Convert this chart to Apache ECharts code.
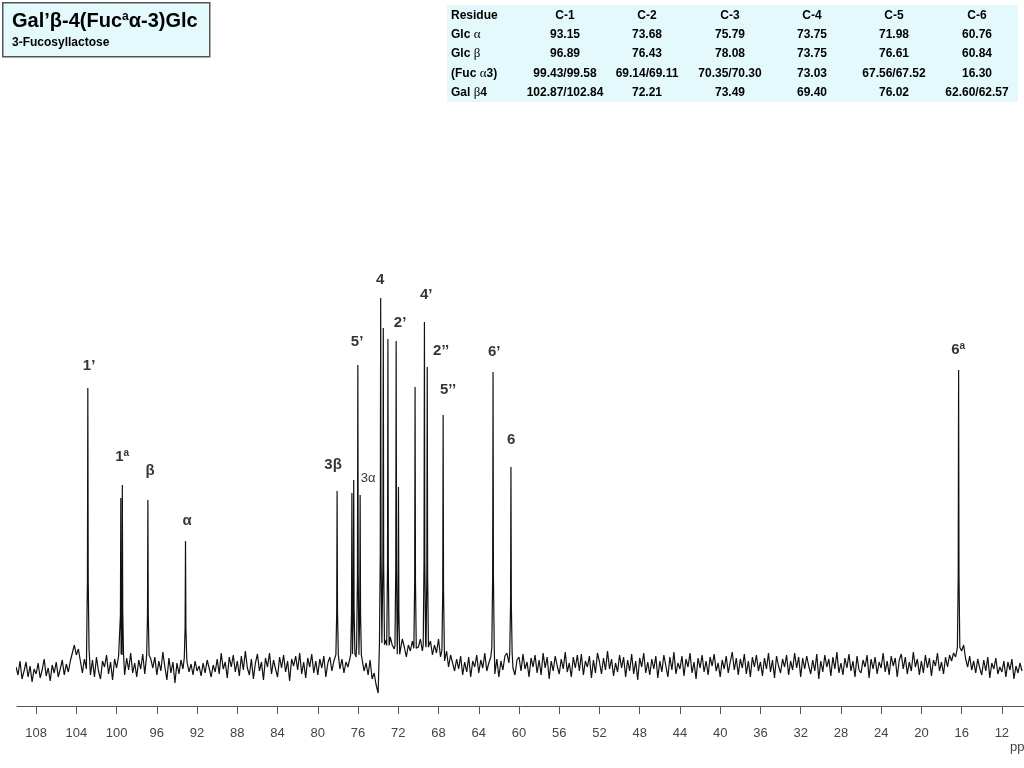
<!DOCTYPE html>
<html>
<head>
<meta charset="utf-8">
<title>3-Fucosyllactose 13C NMR</title>
<script src="https://cdn.jsdelivr.net/npm/echarts@6/dist/echarts.min.js"></script>
<style>
  html, body { margin: 0; padding: 0; background: #fff; }
  #chart { width: 1024px; height: 768px; }
</style>
</head>
<body>
<div id="chart"></div>
<script>
// x轴刻度 (ppm)
var tickLabels = [108, 104, 100, 96, 92, 88, 84, 80, 76, 72, 68, 64, 60, 56, 52, 48, 44, 40, 36, 32, 28, 24, 20, 16, 12];

// 基线噪声, 从110 ppm起每0.2 ppm一个点
var noiseStart = 110;
var noiseStep = 0.2;
var noise = [
  -2, -10, 4, -14, -6, 3, -12, -1, -17, -4,
  -9, 2, -13, -5, 6, -11, -3, -16, 0, -8,
  3, -12, -4, 5, -10, 1, -7, 4, 12, 20,
  10, 16, 4, -8, 6, -4, 2, -10, 5, -12,
  8, -6, -14, 4, -2, 10, -9, 3, -15, 6,
  -3, 9, -1, 4, -10, 7, -5, 12, -8, 2,
  -12, 5, -4, 11, -9, 2, -16, 6, -3, 8,
  -10, 4, -6, 13, -2, -15, 7, -8, 3, -18,
  2, -9, 5, -4, -12, 3, -7, 1, -10, 4,
  -6, -1, -11, 2, -8, 5, -3, -12, 0, -7,
  6, -9, 12, -4, 3, -13, 8, -2, 10, -7,
  4, -11, 9, -5, 14, -3, -10, 6, -14, 2,
  11, -6, 3, -15, 7, -2, 12, -9, 5, -4,
  -12, 8, -3, 10, -7, 4, -16, 6, -1, 9,
  -5, 12, -9, 3, -13, 7, -2, 11, -8, 4,
  -10, 6, -3, 9, -12, 2, 8, -6, 4, -9,
  10, -4, 6, -8, 3, -2, 7, 12, -5, 8,
  4, -3, 9, -6, 2, -10, 5, -14, -8, -20,
  -28, -12, 10, 18, 25, 14, 28, 20, 16, 30,
  22, 12, 26, 18, 8, 20, 14, 24, 10, 28,
  18, 26, 14, 30, 22, 16, 24, 10, 20, 12,
  26, 8, 18, 4, 14, -2, 10, 2, -6, 6,
  -4, 9, -10, 3, -7, 8, -12, 4, -2, 10,
  -8, 5, -3, 12, -6, 2, 8, -1, -9, 6,
  -12, 4, -5, 9, 12, 2, 6, -3, -10, 5,
  8, -6, 11, -4, 3, -12, 7, -2, 10, -8,
  5, -10, 12, -3, 8, -14, 4, -6, 9, -1,
  -9, 6, -4, 13, -7, 2, -12, 8, -3, 10,
  -6, 11, -10, 4, -2, 9, -13, 5, -8, 12,
  3, -9, 7, -5, 14, -4, 6, -11, 2, -7,
  10, -3, 8, -12, 5, -6, 11, -9, 4, -15,
  7, -2, 12, -8, 3, -10, 6, -4, 9, -13,
  4, -7, 10, -1, -12, 8, -5, 13, -9, 2,
  -4, 9, -11, 6, -2, 12, -8, 3, -14, 7,
  -3, 10, -7, 4, -10, 8, -1, 11, -6, 2,
  -12, 5, -4, 9, -8, 3, 13, -5, 7, -10,
  6, -3, 11, -9, 4, -12, 8, -2, 10, -6,
  3, -11, 7, -4, 12, -7, 5, -13, 9, -1,
  -8, 6, -2, 10, -10, 4, -5, 12, -3, 8,
  -12, 7, -4, 9, -1, -9, 5, -6, 11, -14,
  4, -7, 10, -2, 6, -11, 8, -4, 13, -8,
  2, -10, 7, -3, 11, -6, 4, -12, 9, -5,
  -8, 5, -2, 10, -13, 6, -4, 8, -9, 3,
  -3, 12, -7, 4, -10, 9, -1, 7, -12, 5,
  11, -4, 8, -9, 3, -6, 13, -2, 6, -10,
  4, -8, 10, -3, 7, -11, 5, -1, 12, -6,
  3, -9, 8, -2, 10, 4, 12, 8, 18, 24,
  14, 20, 6, -2, 9, -5, 4, -8, 6, -3,
  -10, 5, -6, 8, -13, 2, -4, 7, -9, -2,
  -7, 4, -12, 3, -5, 6, -14, -1, -8, 2,
  -6
];

// 峰位置 (ppm) 和高度
var peakPpm = [102.86, 99.58, 99.43, 96.89, 93.15, 78.08, 76.61, 76.43, 76.02, 75.79,
  73.75, 73.49, 73.03, 72.21, 71.98, 70.33, 69.40, 69.12, 67.54, 62.58, 60.80, 16.30];
var peakHeight = [277, 167, 180, 165, 124, 174, 172, 185, 300, 170,
  367, 337, 326, 324, 178, 278, 343, 298, 250, 293, 198, 295];

// 峰标注
var labelText = ['1’', '1{s|a}', 'β', 'α', '3β', '{n|3α}', '5’', '4', '2’', '4’', '2’’', '5’’', '6’', '6', '6{s|a}'];
var labelPpm = [102.73, 99.45, 96.67, 92.99, 78.48, 75.0, 76.09, 73.80, 71.82, 69.23, 67.74, 67.05, 62.47, 60.78, 16.35];
var labelLevel = [299, 208, 194, 144, 200, 187, 323, 385, 342, 370, 314, 275, 313, 225, 315];

// 化学位移表
var tableHead = ['Residue', 'C-1', 'C-2', 'C-3', 'C-4', 'C-5', 'C-6'];
var residues = ['Glc {g|α}', 'Glc {g|β}', '(Fuc {g|α}3)', 'Gal {g|β}4'];
var glcAlpha = ['93.15', '73.68', '75.79', '73.75', '71.98', '60.76'];
var glcBeta = ['96.89', '76.43', '78.08', '73.75', '76.61', '60.84'];
var fucAlpha3 = ['99.43/99.58', '69.14/69.11', '70.35/70.30', '73.03', '67.56/67.52', '16.30'];
var galBeta4 = ['102.87/102.84', '72.21', '73.49', '69.40', '76.02', '62.60/62.57'];

(function() {
  var myChart = echarts.init(document.getElementById('chart'));

  // 拼接谱线: 噪声 + 峰 (峰两侧加一点裙边)
  var points = [];
  for (var i = 0; i < noise.length; i++) {
    var x = noiseStart - i * noiseStep;
    var near = false;
    for (var k = 0; k < peakPpm.length; k++) {
      if (Math.abs(peakPpm[k] - x) < 0.14) near = true;
    }
    if (!near) points.push([x, noise[i]]);
  }
  for (var j = 0; j < peakPpm.length; j++) {
    var p = peakPpm[j], h = peakHeight[j];
    points.push([p + 0.12, h * 0.06]);
    points.push([p + 0.04, h * 0.3]);
    points.push([p, h]);
    points.push([p - 0.04, h * 0.3]);
    points.push([p - 0.12, h * 0.06]);
  }
  points.sort(function(a, b) { return b[0] - a[0]; });

  var labels = [];
  for (var m = 0; m < labelText.length; m++) {
    labels.push({ name: labelText[m], value: [labelPpm[m], labelLevel[m]] });
  }

  // 标题框和表格
  var font = '"Liberation Sans", Arial, sans-serif';
  var colX = [451, 565, 647, 730, 812, 894, 977];
  var rowY = [16, 34.5, 54, 73.5, 93];
  var rows = [glcAlpha, glcBeta, fucAlpha3, galBeta4];
  var graphics = [
    { type: 'rect', left: 447, top: 5, shape: { width: 571, height: 97 }, style: { fill: '#e3f9fc' } },
    { type: 'rect', left: 2, top: 2, shape: { width: 207, height: 54 }, style: { fill: '#e3f9fc', stroke: '#555', lineWidth: 1.5 } },
    { type: 'text', x: 12, y: 21, style: { text: 'Gal’β-4(Fuc{s|a}α-3)Glc', font: 'bold 20px ' + font, fill: '#000', verticalAlign: 'middle',
        rich: { s: { fontSize: 12, fontWeight: 'bold', fontFamily: font, verticalAlign: 'top', padding: [0, 0, 8, 0] } } } },
    { type: 'text', x: 12, y: 43, style: { text: '3-Fucosyllactose', font: 'bold 12px ' + font, fill: '#000', verticalAlign: 'middle' } },
    { type: 'text', x: 1010, y: 741, style: { text: 'ppm', font: '13px ' + font, fill: '#444' } }
  ];
  for (var c = 0; c < tableHead.length; c++) {
    graphics.push({ type: 'text', x: colX[c], y: rowY[0], style: { text: tableHead[c], font: 'bold 12px ' + font, fill: '#000',
      align: c === 0 ? 'left' : 'center', verticalAlign: 'middle' } });
  }
  for (var r = 0; r < rows.length; r++) {
    graphics.push({ type: 'text', x: colX[0], y: rowY[r + 1], style: { text: residues[r], font: 'bold 12px ' + font, fill: '#000',
      verticalAlign: 'middle', rich: { g: { fontSize: 13, fontWeight: 'normal', fontFamily: '"Liberation Serif", serif' } } } });
    for (var q = 0; q < rows[r].length; q++) {
      graphics.push({ type: 'text', x: colX[q + 1], y: rowY[r + 1], style: { text: rows[r][q], font: 'bold 12px ' + font, fill: '#000',
        align: 'center', verticalAlign: 'middle' } });
    }
  }

  var option = {
    animation: false,
    grid: { left: 17, right: 0, top: 260, bottom: 62 },
    xAxis: {
      type: 'value',
      inverse: true,
      min: 9.8,
      max: 109.9,
      axisLine: { onZero: false, lineStyle: { color: '#555', width: 1 } },
      axisTick: { customValues: tickLabels, length: 8, lineStyle: { color: '#555' } },
      axisLabel: { customValues: tickLabels, color: '#444', fontSize: 13, fontFamily: font, margin: 21 },
      splitLine: { show: false }
    },
    yAxis: { type: 'value', show: false, min: -41, max: 405 },
    series: [
      {
        name: 'spectrum',
        type: 'line',
        data: points,
        showSymbol: false,
        symbol: 'none',
        lineStyle: { color: '#111', width: 1.2 }
      },
      {
        name: 'peaks',
        type: 'scatter',
        data: labels,
        symbolSize: 0,
        label: {
          show: true,
          position: 'inside',
          formatter: '{b}',
          color: '#000',
          fontSize: 15,
          fontWeight: 'bold',
          fontFamily: font,
          rich: {
            s: { fontSize: 10, fontWeight: 'bold', fontFamily: font, verticalAlign: 'top', padding: [0, 0, 8, 0] },
            n: { fontSize: 13, fontWeight: 'normal', fontFamily: font }
          }
        }
      }
    ],
    graphic: graphics
  };
  myChart.setOption(option);
  window.addEventListener('resize', function() {
    myChart.resize();
  });
})();
</script>
</body>
</html>
